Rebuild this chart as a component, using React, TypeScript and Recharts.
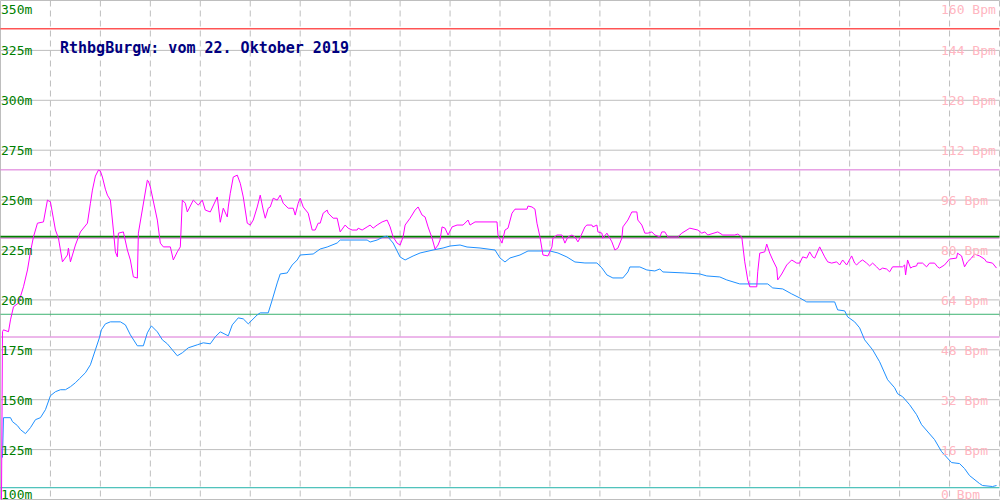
import React from 'react';
import { LineChart, Line, XAxis, YAxis, CartesianGrid, ReferenceLine } from 'recharts';

const FONT = '"DejaVu Sans Mono", "Liberation Mono", monospace';

const chartTitle = 'RthbgBurgw: vom 22. Oktober 2019';
const altitudeTicks = [100, 125, 150, 175, 200, 225, 250, 275, 300, 325, 350];
const bpmTicks = [0, 16, 32, 48, 64, 80, 96, 112, 128, 144, 160];
const distanceTicks = [0, 50, 100, 150, 200, 250, 300, 350, 400, 450, 500, 550, 600, 650, 700, 750, 800, 850, 900, 950, 1000];

// [distance, altitude m]
const altitude: [number, number][] = [
  [2, 121], [3, 141], [10, 141], [12, 139], [17, 137], [20, 135], [25, 133], [30, 136], [35, 140], [40, 141],
  [45, 145], [50, 152], [55, 154], [60, 155], [65, 155], [70, 156.5], [75, 158.5], [79, 160.5], [85, 163.5], [90, 167.5],
  [95, 175], [99, 181], [101, 185], [105, 188], [110, 189], [120, 189], [125, 187.5], [130, 182.5], [137, 177], [143, 177],
  [147, 183.5], [151, 187], [157, 184], [162, 180], [167, 178], [172, 175], [177, 172], [182, 173.5], [188, 176], [197, 177.5],
  [203, 178.5], [210, 178], [215, 181.5], [220, 184], [228, 182], [232, 187.5], [238, 191], [243, 190.5], [248, 188], [257, 192.5],
  [260, 193.5], [268, 193.5], [272, 200], [277, 208.5], [280, 213], [287, 213.5], [292, 217.5], [297, 220], [300, 222.5], [313, 223],
  [320, 225.5], [327, 226.5], [337, 228.5], [340, 230], [367, 230], [370, 229], [377, 230], [383, 231.5], [387, 232], [393, 228.5],
  [400, 221.5], [405, 220], [413, 222], [420, 223.5], [433, 225], [443, 226], [450, 227], [460, 227.5], [467, 226.5], [480, 226],
  [495, 225], [500, 221], [505, 219], [510, 221], [520, 222.5], [528, 224.5], [550, 224.5], [558, 223.5], [567, 221.5], [575, 219],
  [585, 218.5], [597, 218.5], [602, 216], [607, 212.5], [613, 211], [623, 211], [628, 214], [630, 216.5], [640, 216.5], [647, 215],
  [655, 214.5], [660, 215.5], [663, 214], [685, 213.5], [700, 213], [707, 212], [720, 211.5], [727, 210], [740, 208], [768, 208],
  [773, 206], [783, 205.5], [792, 203], [800, 201], [807, 199], [835, 199], [838, 195], [845, 194.5], [848, 191.5], [855, 189],
  [860, 186], [865, 180], [873, 175], [880, 169], [888, 160], [895, 156], [898, 153], [903, 151.5], [910, 147.5], [917, 142.5],
  [922, 137.5], [935, 130], [942, 124], [952, 118.5], [960, 118], [965, 115.5], [970, 112], [980, 108], [983, 107], [993, 106.5],
  [997, 107],
];

// [distance, heart rate Bpm]
const heartRate: [number, number][] = [
  [1, 0], [2, 53.8], [3, 54.4], [8, 53.8], [10, 57.6], [13, 61.8], [18, 63.0], [23, 68.2], [27, 73.6], [30, 79.4],
  [33, 84.2], [37, 88.6], [43, 89.0], [47, 96.0], [50, 95.4], [55, 86.4], [58, 83.8], [62, 76.2], [67, 78.4], [68, 80.6],
  [70, 76.2], [75, 81.6], [80, 85.8], [87, 88.6], [90, 95.0], [92, 99.2], [95, 103.7], [98, 105.6], [100, 105.3], [102, 103.4],
  [105, 99.5], [107, 97.6], [110, 96.0], [113, 86.4], [115, 79.4], [117, 77.8], [118, 85.4], [123, 85.8], [127, 80.0], [130, 76.8],
  [133, 71.4], [137, 71.0], [138, 85.4], [147, 102.4], [148, 102.1], [150, 100.2], [157, 89.6], [160, 82.2], [163, 81.0], [170, 81.0],
  [173, 76.8], [177, 79.4], [180, 81.0], [182, 96.0], [185, 95.0], [187, 92.2], [193, 96.0], [198, 94.4], [202, 96.0], [205, 92.8],
  [210, 92.2], [217, 97.0], [220, 88.9], [223, 93.4], [227, 90.6], [228, 93.8], [230, 98.2], [233, 103.4], [237, 104.0], [240, 101.4],
  [243, 97.0], [247, 88.6], [250, 88.0], [253, 89.6], [257, 93.8], [260, 97.6], [263, 92.8], [265, 90.2], [268, 93.4], [270, 93.8],
  [273, 96.6], [277, 96.0], [280, 97.6], [283, 95.0], [288, 93.4], [293, 93.4], [295, 91.2], [298, 95.0], [300, 96.6], [303, 93.8],
  [308, 91.8], [312, 86.4], [315, 86.4], [318, 88.6], [320, 88.6], [323, 91.8], [327, 92.8], [328, 91.8], [333, 90.2], [337, 90.2],
  [340, 85.8], [345, 88.0], [348, 87.0], [352, 86.4], [357, 86.4], [358, 87.0], [362, 86.4], [367, 87.4], [370, 88.0], [373, 87.0],
  [377, 88.0], [382, 89.0], [387, 89.6], [390, 87.4], [393, 84.2], [397, 82.2], [400, 81.6], [403, 84.2], [405, 88.0], [410, 90.2],
  [415, 92.8], [418, 93.8], [422, 91.2], [425, 90.6], [428, 87.4], [432, 83.8], [435, 80.3], [438, 81.6], [440, 83.2], [442, 87.4],
  [445, 87.0], [448, 84.8], [452, 87.4], [457, 88.0], [463, 88.0], [468, 89.6], [470, 88.0], [475, 89.0], [497, 89.0], [498, 84.8],
  [502, 82.2], [505, 86.4], [508, 87.0], [512, 91.8], [515, 93.1], [527, 93.1], [528, 94.1], [532, 93.8], [535, 93.1], [537, 88.6],
  [540, 84.2], [543, 78.4], [548, 78.1], [552, 81.0], [553, 83.8], [557, 84.8], [562, 84.8], [565, 82.2], [568, 84.2], [572, 84.8],
  [575, 84.2], [578, 82.6], [580, 83.8], [585, 87.4], [587, 88.0], [592, 88.0], [593, 87.4], [597, 88.0], [598, 85.8], [602, 85.4],
  [603, 83.8], [607, 85.4], [610, 83.8], [612, 82.6], [615, 80.0], [618, 80.6], [622, 83.8], [623, 87.4], [628, 89.6], [632, 92.2],
  [637, 92.2], [638, 89.6], [642, 88.0], [645, 85.4], [648, 85.4], [652, 85.8], [655, 84.8], [660, 84.2], [662, 85.8], [665, 85.8],
  [668, 84.2], [678, 84.2], [682, 85.4], [690, 87.0], [698, 86.4], [702, 85.4], [705, 85.8], [708, 84.8], [718, 85.8], [723, 84.8],
  [735, 84.8], [738, 85.1], [742, 84.2], [745, 76.2], [748, 70.4], [750, 68.2], [757, 68.2], [758, 73.0], [760, 79.0], [765, 79.4],
  [767, 81.9], [770, 79.0], [773, 76.8], [777, 74.2], [778, 70.4], [782, 72.3], [787, 75.2], [792, 76.8], [797, 75.8], [800, 75.8],
  [803, 77.8], [807, 77.4], [810, 79.4], [813, 77.8], [815, 77.4], [820, 81.0], [825, 77.8], [828, 76.2], [832, 75.8], [837, 76.2],
  [840, 75.2], [843, 76.8], [847, 75.2], [852, 78.1], [855, 75.8], [857, 75.2], [860, 76.2], [863, 76.8], [867, 75.8], [870, 74.9],
  [873, 75.8], [877, 74.6], [880, 73.6], [883, 74.2], [887, 73.9], [890, 73.0], [893, 74.6], [903, 74.6], [905, 75.2], [906, 72.0],
  [908, 76.8], [911, 74.2], [913, 74.6], [917, 74.9], [918, 75.8], [923, 75.8], [927, 74.6], [930, 75.8], [935, 75.8], [938, 74.6],
  [940, 74.2], [945, 75.2], [950, 77.1], [957, 77.4], [958, 79.0], [962, 78.1], [965, 74.6], [968, 76.2], [972, 77.4], [975, 78.7],
  [980, 78.1], [985, 77.1], [987, 76.2], [993, 75.8], [997, 74.2],
];

// Horizontal marker lines
const altitudeMarkers = [
  { value: 335.8, color: '#ff0000', width: 1 },
  { value: 231.7, color: '#008000', width: 2 },
  { value: 192.8, color: '#3cb371', width: 1 },
  { value: 105.9, color: '#20b2aa', width: 1 },
];
const bpmMarkers = [
  { value: 105.7, color: '#da70d6', width: 1 },
  { value: 83.8, color: '#da70d6', width: 1 },
  { value: 52.1, color: '#da70d6', width: 1 },
];

const altitudeData = altitude.map(([d, v]) => ({ d, alt: v }));
const hrData = heartRate.map(([d, v]) => ({ d, hr: v }));

const LeftTick = (props: any) => {
  const { y, payload } = props;
  const v = payload.value;
  const dy = v === 350 ? 13 : v === 100 ? -1 : 5;
  return (
    <text x={1} y={y + dy} fill="#008000" fontSize={13} fontFamily={FONT}>
      {`${v}m`}
    </text>
  );
};

const RightTick = (props: any) => {
  const { y, payload } = props;
  const v = payload.value;
  const dy = v === 160 ? 13 : v === 0 ? -1 : 5;
  return (
    <text x={941} y={y + dy} fill="#ffb6c1" fontSize={13} fontFamily={FONT}>
      {`${v} Bpm`}
    </text>
  );
};

export default function App() {
  return (
    <div style={{ position: 'absolute', left: 0, top: 0, width: 1000, height: 500, background: '#ffffff' }}>
      <LineChart width={1000} height={500} margin={{ top: 0.5, right: 0.5, bottom: 0.5, left: 0.5 }}>
        <CartesianGrid yAxisId="left" horizontal={true} vertical={false} stroke="#bebebe" />
        <CartesianGrid yAxisId="left" horizontal={false} vertical={true} stroke="#bebebe" strokeDasharray="6 4" />
        <XAxis dataKey="d" type="number" domain={[0, 1000]} ticks={distanceTicks} hide allowDuplicatedCategory={false} />
        <YAxis
          yAxisId="left"
          orientation="left"
          type="number"
          domain={[100, 350]}
          ticks={altitudeTicks}
          mirror
          axisLine={false}
          tickLine={false}
          tick={LeftTick}
          interval={0}
        />
        <YAxis
          yAxisId="right"
          orientation="right"
          type="number"
          domain={[0, 160]}
          ticks={bpmTicks}
          mirror
          axisLine={false}
          tickLine={false}
          tick={RightTick}
          interval={0}
        />
        <ReferenceLine yAxisId="left" x={0} stroke="#bebebe" />
        {altitudeMarkers.map((m, i) => (
          <ReferenceLine key={`a${i}`} yAxisId="left" y={m.value} stroke={m.color} strokeWidth={m.width} />
        ))}
        {bpmMarkers.map((m, i) => (
          <ReferenceLine key={`b${i}`} yAxisId="right" y={m.value} stroke={m.color} strokeWidth={m.width} />
        ))}
        <Line
          yAxisId="left"
          data={altitudeData}
          dataKey="alt"
          type="linear"
          stroke="#1e90ff"
          strokeWidth={1}
          dot={false}
          activeDot={false}
          isAnimationActive={false}
        />
        <Line
          yAxisId="right"
          data={hrData}
          dataKey="hr"
          type="linear"
          stroke="#ff00ff"
          strokeWidth={1}
          dot={false}
          activeDot={false}
          isAnimationActive={false}
        />
      </LineChart>
      <svg width={1000} height={500} style={{ position: 'absolute', left: 0, top: 0, pointerEvents: 'none' }}>
        <text x={60} y={53} fill="#000080" fontSize={15} fontWeight="bold" fontFamily={FONT}>
          {chartTitle}
        </text>
      </svg>
    </div>
  );
}
